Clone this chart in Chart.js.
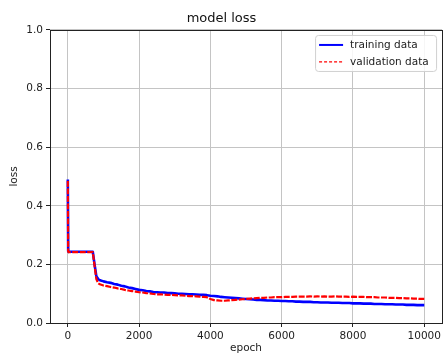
<!DOCTYPE html>
<html>
<head>
<meta charset="utf-8">
<script src="https://cdn.jsdelivr.net/npm/chart.js@4"></script>
<style>
  html, body { margin: 0; padding: 0; background: #fff; }
  canvas { display: block; }
</style>
</head>
<body>
<canvas id="c" width="444" height="356"></canvas>
<script>
// Epochs at which the loss was logged
const epochs = [0, 10, 20, 100, 200, 300, 400, 500, 600, 700, 750, 800, 850, 900,
  1000, 1100, 1200, 1300, 1400, 1500, 1600, 1700, 1800, 1900,
  2000, 2100, 2200, 2300, 2400, 2500, 2600, 2700, 2800, 2900,
  3000, 3100, 3200, 3300, 3400, 3500, 3600, 3700, 3800, 3900,
  4000, 4100, 4200, 4300, 4400, 4500, 4600, 4700, 4800, 4900,
  5000, 5100, 5200, 5300, 5400, 5500, 5600, 5700, 5800, 5900,
  6000, 6100, 6200, 6300, 6400, 6500, 6600, 6700, 6800, 6900,
  7000, 7100, 7200, 7300, 7400, 7500, 7600, 7700, 7800, 7900,
  8000, 8100, 8200, 8300, 8400, 8500, 8600, 8700, 8800, 8900,
  9000, 9100, 9200, 9300, 9400, 9500, 9600, 9700, 9800, 9900,
  10000];

// Training loss per logged epoch
const trainingLoss = [0.490, 0.245, 0.243, 0.243, 0.243, 0.243, 0.243, 0.243, 0.243, 0.243, 0.200, 0.160, 0.150, 0.146,
  0.142, 0.139, 0.137, 0.133, 0.131, 0.127, 0.125, 0.121, 0.119, 0.116,
  0.113, 0.112, 0.109, 0.108, 0.106, 0.105, 0.104, 0.104, 0.102, 0.102,
  0.101, 0.100, 0.100, 0.099, 0.098, 0.098, 0.097, 0.096, 0.096, 0.095,
  0.093, 0.092, 0.091, 0.089, 0.088, 0.087, 0.086, 0.085, 0.084, 0.083,
  0.082, 0.081, 0.080, 0.079, 0.079, 0.078, 0.077, 0.077, 0.076, 0.076,
  0.075, 0.075, 0.074, 0.074, 0.073, 0.073, 0.072, 0.072, 0.072, 0.071,
  0.071, 0.070, 0.070, 0.070, 0.069, 0.069, 0.069, 0.068, 0.068, 0.068,
  0.067, 0.067, 0.067, 0.066, 0.066, 0.066, 0.065, 0.065, 0.065, 0.064,
  0.064, 0.064, 0.063, 0.063, 0.063, 0.062, 0.062, 0.062, 0.061, 0.061,
  0.061];

// Validation loss per logged epoch
const validationLoss = [0.485, 0.244, 0.242, 0.242, 0.242, 0.242, 0.242, 0.242, 0.242, 0.242, 0.195, 0.150, 0.136, 0.132,
  0.128, 0.126, 0.123, 0.121, 0.118, 0.116, 0.113, 0.111, 0.109, 0.107,
  0.105, 0.104, 0.102, 0.101, 0.099, 0.098, 0.098, 0.097, 0.096, 0.096,
  0.095, 0.094, 0.094, 0.093, 0.092, 0.092, 0.091, 0.090, 0.089, 0.088,
  0.082, 0.078, 0.077, 0.076, 0.076, 0.077, 0.078, 0.079, 0.080, 0.081,
  0.082, 0.083, 0.084, 0.085, 0.086, 0.086, 0.087, 0.087, 0.088, 0.088,
  0.088, 0.089, 0.089, 0.089, 0.090, 0.090, 0.090, 0.090, 0.091, 0.090,
  0.091, 0.090, 0.091, 0.090, 0.090, 0.091, 0.090, 0.090, 0.090, 0.089,
  0.090, 0.089, 0.089, 0.089, 0.088, 0.088, 0.088, 0.087, 0.087, 0.087,
  0.086, 0.086, 0.086, 0.085, 0.085, 0.084, 0.084, 0.083, 0.083, 0.082,
  0.082];

const xTicks = [0, 2000, 4000, 6000, 8000, 10000];
const yTicks = [0.0, 0.2, 0.4, 0.6, 0.8, 1.0];

const FONT = "'DejaVu Sans', 'Liberation Sans', sans-serif";
const TEXT = '#222';
const GRID = '#c4c4c4';

const toPoints = vals => vals.map((v, i) => ({ x: epochs[i], y: v }));

// Frame around the plotting area (all four spines)
const framePlugin = {
  id: 'frame',
  afterDatasetsDraw(chart) {
    const { ctx, chartArea: a } = chart;
    ctx.save();
    ctx.strokeStyle = '#222';
    ctx.lineWidth = 1;
    ctx.strokeRect(Math.round(a.left) + 0.5, Math.round(a.top) + 0.5,
      Math.round(a.right - a.left), Math.round(a.bottom - a.top));
    ctx.restore();
  }
};

// Legend box in the upper right corner of the plotting area
const insetLegend = {
  id: 'insetLegend',
  afterDraw(chart) {
    const { ctx, chartArea: a } = chart;
    const bw = 121, bh = 36;
    const bx = a.right - bw - 6, by = a.top + 5;
    ctx.save();
    ctx.beginPath();
    ctx.roundRect(bx + 0.5, by + 0.5, bw, bh, 3);
    ctx.fillStyle = 'rgba(255,255,255,0.85)';
    ctx.fill();
    ctx.strokeStyle = '#d0d0d0';
    ctx.lineWidth = 1;
    ctx.stroke();
    ctx.font = '10.5px ' + FONT;
    ctx.textBaseline = 'middle';
    ctx.fillStyle = TEXT;
    chart.data.datasets.forEach((ds, i) => {
      const y = by + 10 + i * 17;
      ctx.beginPath();
      ctx.strokeStyle = ds.borderColor;
      ctx.lineWidth = i === 0 ? 2 : 1.2;
      ctx.setLineDash(i === 0 ? [] : [3, 2]);
      ctx.moveTo(bx + 4, y);
      ctx.lineTo(bx + 28, y);
      ctx.stroke();
      ctx.setLineDash([]);
      ctx.fillText(ds.label, bx + 35, y);
    });
    ctx.restore();
  }
};

new Chart(document.getElementById('c'), {
  type: 'line',
  data: {
    datasets: [
      {
        label: 'training data',
        data: toPoints(trainingLoss),
        borderColor: '#0000ff',
        borderWidth: 2.6,
        borderJoinStyle: 'round',
        pointRadius: 0,
        tension: 0,
        order: 2
      },
      {
        label: 'validation data',
        data: toPoints(validationLoss),
        borderColor: '#ff0000',
        borderWidth: 2.2,
        borderDash: [6, 1.5],
        borderJoinStyle: 'round',
        pointRadius: 0,
        tension: 0,
        order: 1
      }
    ]
  },
  options: {
    responsive: false,
    animation: false,
    devicePixelRatio: 1,
    layout: { padding: { left: 0, right: 1, top: 0, bottom: 0 } },
    plugins: {
      legend: { display: false },
      tooltip: { enabled: false },
      title: {
        display: true,
        text: 'model loss',
        color: '#111',
        font: { family: FONT, size: 13, weight: 'normal', lineHeight: 1.15 },
        padding: { top: 11, bottom: 4 }
      }
    },
    scales: {
      x: {
        type: 'linear',
        min: -500,
        max: 10500,
        afterBuildTicks: s => { s.ticks = xTicks.map(v => ({ value: v })); },
        afterFit: s => { s.height = 33; },
        grid: { color: GRID, lineWidth: 1, tickLength: 4, tickColor: '#222', drawTicks: true },
        border: { display: false },
        ticks: {
          color: TEXT, padding: 3, maxRotation: 0,
          font: { family: FONT, size: 10.5 },
          callback: v => String(v)
        },
        title: {
          display: true, text: 'epoch', color: TEXT,
          font: { family: FONT, size: 10.5 },
          padding: { top: 0, bottom: 1 }
        }
      },
      y: {
        type: 'linear',
        min: 0,
        max: 1,
        afterBuildTicks: s => { s.ticks = yTicks.map(v => ({ value: v })); },
        afterFit: s => { s.width = 50; },
        grid: { color: GRID, lineWidth: 1, tickLength: 4, tickColor: '#222', drawTicks: true },
        border: { display: false },
        ticks: {
          color: TEXT, padding: 3,
          font: { family: FONT, size: 10.5 },
          callback: v => Number(v).toFixed(1)
        },
        title: {
          display: true, text: 'loss', color: TEXT,
          font: { family: FONT, size: 10.5 },
          padding: { top: 7.5, bottom: 0 }
        }
      }
    }
  },
  plugins: [framePlugin, insetLegend]
});
</script>
</body>
</html>
